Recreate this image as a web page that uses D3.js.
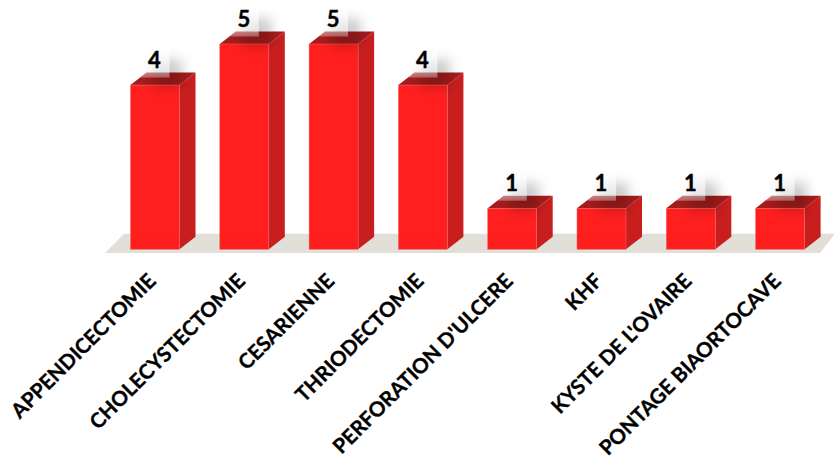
<!DOCTYPE html>
<html><head><meta charset="utf-8">
<script src="https://cdn.jsdelivr.net/npm/d3@7"></script>
<style>html,body{margin:0;padding:0;background:#fff}svg{display:block}</style>
</head><body><svg id="c" width="835" height="459"></svg>
<script>
const categories=["APPENDICECTOMIE","CHOLECYSTECTOMIE","CESARIENNE","THRIODECTOMIE","PERFORATION D'ULCERE","KHF","KYSTE DE L'OVAIRE","PONTAGE BIAORTOCAVE"];
const values=[4,5,5,4,1,1,1,1];
const depthX=16,depthY=12.5;
const svg=d3.select("#c");
const x=d3.scaleBand().domain(categories).range([110.35,824.75]).paddingInner(.451).paddingOuter(.2255);
const y=d3.scaleLinear().domain([0,5]).range([249.3,44]);
const fontFam="Lato,sans-serif";
const defs=svg.append("defs");
defs.append("filter").attr("id","blur").attr("x","-60%").attr("y","-60%").attr("width","220%").attr("height","220%")
  .append("feGaussianBlur").attr("stdDeviation",6);
const lg=defs.append("linearGradient").attr("id","glass").attr("x1",0).attr("y1",0).attr("x2",0).attr("y2",1);
lg.append("stop").attr("offset",0).attr("stop-color","#fff").attr("stop-opacity",.7);
lg.append("stop").attr("offset",.7).attr("stop-color","#fff").attr("stop-opacity",.55);
lg.append("stop").attr("offset",1).attr("stop-color","#fff").attr("stop-opacity",.3);
const b0=y(0);
const pts=a=>a.map(p=>p.join(",")).join(" ");
svg.append("polygon").attr("fill","#e1dfd8")
  .attr("points",pts([[105,b0+3.7],[820,b0+3.7],[835,b0-15.5],[124,b0-15.5]]));
const g=svg.selectAll("g.bar").data(categories).join("g").attr("class","bar");
g.each(function(c,i){
  const s=d3.select(this),l=x(c),r=l+x.bandwidth(),t=y(values[i]);
  s.append("polygon").attr("fill","#a51c1c").attr("points",pts([[l,t],[r,t],[r+depthX,t-depthY],[l+depthX,t-depthY]]));
  s.append("polygon").attr("fill","#c81e1e").attr("points",pts([[r,t],[r+depthX,t-depthY],[r+depthX,b0-depthY],[r,b0]]));
  s.append("rect").attr("x",l).attr("y",t).attr("width",x.bandwidth()).attr("height",b0-t)
    .attr("fill","#ff1616").attr("fill-opacity",.96).attr("stroke","#f06a6a").attr("stroke-width",.5);
});
const lab=svg.selectAll("g.lab").data(categories).join("g").attr("class","lab");
lab.each(function(c,i){
  const s=d3.select(this),cx=x(c)+x.bandwidth()/2,t=y(values[i]),top=t-7.5;
  s.append("rect").attr("x",cx-10).attr("y",top-24).attr("width",30).attr("height",28)
    .attr("fill","#000").attr("fill-opacity",.2).attr("filter","url(#blur)").attr("transform","translate(7,6)");
  s.append("rect").attr("x",cx-14).attr("y",top-28).attr("width",28.5).attr("height",28).attr("fill","url(#glass)");
  s.append("text").attr("x",cx-.5).attr("y",t-17).attr("text-anchor","middle")
    .attr("font-family",fontFam).attr("font-weight",700).attr("font-size",22).attr("fill","#000")
    .attr("stroke","#000").attr("stroke-width",.4).text(values[i]);
});
const axis=svg.append("g").attr("transform",`translate(0,${b0})`).call(d3.axisBottom(x).tickSize(0));
axis.select(".domain").remove();
axis.selectAll("text").attr("font-family",fontFam).attr("font-weight",700).attr("font-size",20.6).attr("fill","#000")
  .attr("stroke","#000").attr("stroke-width",.35)
  .attr("text-anchor","end").attr("dy",0).attr("y",0)
  .attr("transform","translate(2,33) rotate(-45)");
</script></body></html>
